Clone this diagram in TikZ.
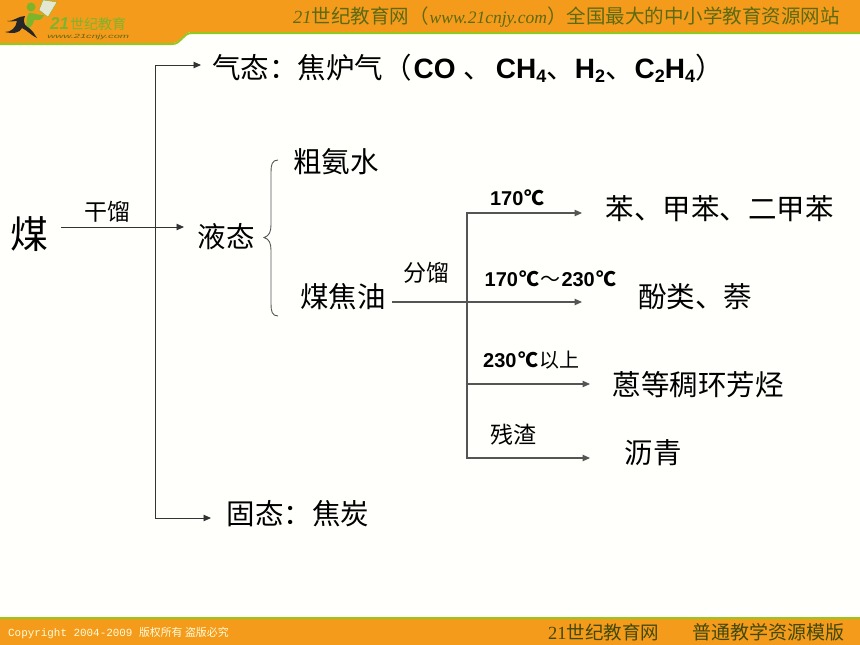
\documentclass[tikz,border=0pt]{standalone}
\usepackage{fontspec}
\setmainfont{Liberation Sans}
\newfontfamily\cjk{Noto Sans CJK SC}
\newfontfamily\latb{Liberation Sans Bold}
\newfontfamily\latbi{Liberation Sans Bold Italic}
\newfontfamily\lati{Liberation Sans Italic}
\newfontfamily\serifit{Liberation Serif Italic}
\newfontfamily\monof{Liberation Mono}
\newfontfamily\serifr{Liberation Serif}
\usetikzlibrary{arrows.meta}
\definecolor{bandorange}{HTML}{F49B1C}
\definecolor{bandgreen}{HTML}{94C81E}
\definecolor{olive}{HTML}{5C6A12}
\definecolor{linegray}{HTML}{555555}
\definecolor{logogreen}{HTML}{7DB52A}
\definecolor{papergray}{HTML}{E4E8D2}
\tikzset{
  x=1pt,y=-1pt,
  cn/.style={inner sep=0pt,anchor=center,font=\fontsize{28.5}{28.5}\selectfont\cjk,text=black},
  small/.style={inner sep=0pt,anchor=center,font=\fontsize{23}{23}\selectfont\cjk,text=black},
  temp/.style={inner sep=0pt,anchor=center,font=\fontsize{20}{20}\selectfont\latb,text=black},
  conn/.style={draw=linegray,line width=1.1pt,-{Triangle[length=7.5pt,width=6.5pt]}},
  darkconn/.style={conn,draw=black!80,line width=.9pt},
}
\newcommand{\dC}{\kern1.5pt{\cjk\bfseries ℃}\kern1pt}
\newcommand{\bl}[1]{{\latb\fontsize{28}{28}\selectfont #1}}
\newcommand{\sbs}[1]{\raisebox{-4pt}{\fontsize{18}{18}\selectfont #1}}
\begin{document}
\begin{tikzpicture}
\useasboundingbox (0,0) rectangle (860,645);
\fill[white!99!yellow] (0,0) rectangle (860,645);
% header band
\fill[bandorange] (0,0) -- (860,0) -- (860,32) -- (192,32) .. controls (182,32) and (182,43) .. (172,43) -- (0,43) -- cycle;
\draw[bandgreen,line width=2pt] (860,33) -- (192,33) .. controls (182,33) and (182,44) .. (172,44) -- (0,44);
% footer band
\fill[bandorange] (0,618) rectangle (860,645);
\fill[bandgreen] (0,616.5) rectangle (860,619);
% logo
\fill[papergray,draw=logogreen,line width=.4pt] (43,0) -- (57,2) -- (48,17) -- (39,10) -- cycle;
\fill[logogreen] (31,7) circle (4.5);
\fill[logogreen] (29,13) .. controls (36,13) and (40,16) .. (44,15) .. controls (42,21) and (38,20) .. (34,20) .. controls (33,26) and (30,28) .. (26,28) .. controls (27,22) and (26,17) .. (29,13) -- cycle;
\fill[black!85] (7,21) .. controls (13,22) and (18,16) .. (25,16) .. controls (22,24) and (26,26) .. (29,28) .. controls (33,31) and (35,35) .. (37,38) .. controls (32,36) and (28,31) .. (22,28) .. controls (20,33) and (13,34) .. (5,32) .. controls (11,32) and (16,28) .. (17,21) .. controls (14,21) and (10,22) .. (7,21) -- cycle;
\node[inner sep=0pt,anchor=west,text=logogreen,font=\fontsize{17}{17}\selectfont\latbi] (logoa) at (50,24) {21\kern1pt{\cjk\fontsize{14}{14}\selectfont 世纪教育}};
\node[inner sep=0pt,anchor=west,text=olive,font=\fontsize{6}{6}\selectfont\lati,xscale=1.85,transform shape] (logob) at (47,36.5) {www.21cnjy.com};
% header and footer text
\node[inner sep=0pt,anchor=west,text=olive,font=\fontsize{19.5}{19.5}\selectfont] (headtxt) at (293,17) {{\serifit\fontsize{18.5}{18.5}\selectfont 21}{\cjk 世纪教育网（}\kern1pt{\serifit\fontsize{17.5}{17.5}\selectfont www.21cnjy.com}{\cjk ）全国最大的中小学教育资源网站}};
\node[inner sep=0pt,anchor=west,text=white!85!yellow,font=\fontsize{10.9}{10.9}\selectfont] (foota) at (8,633) {{\monof Copyright 2004-2009 }{\cjk 版权所有 盗版必究}};
\node[inner sep=0pt,anchor=west,text=olive!70!black,font=\fontsize{18.5}{18.5}\selectfont] (footb) at (548,632) {{\serifr 21}{\cjk 世纪教育网}};
\node[inner sep=0pt,anchor=west,text=olive!70!black,font=\fontsize{19}{19}\selectfont\cjk] (footc) at (692,632) {普通教学资源模版};
% main text
\node[cn,font=\fontsize{38}{38}\selectfont\cjk] (mei) at (29,234) {煤};
\node[small] (gl) at (107,212) {干馏};
\node[cn,anchor=west] (qi) at (212,68) {气态：焦炉气（\kern2pt\bl{CO }、\kern4pt\bl{CH\sbs{4}}、\bl{H\sbs{2}}、\kern1pt\bl{C\sbs{2}H\sbs{4}}）};
\node[cn] (ye) at (226,237) {液态};
\node[cn] (gu) at (298,514) {固态：焦炭};
\node[cn] (cu) at (336,162) {粗氨水};
\node[cn] (jiao) at (343,297) {煤焦油};
\node[small] (fl) at (426,273) {分馏};
\node[temp] (t1) at (518,198) {170\dC};
\node[temp] (t2) at (551,279) {170\dC{\cjk\mdseries ～}\kern1pt 230\dC};
\node[temp,anchor=west] (t3) at (483,360) {230\dC{\cjk 以上}};
\node[small] (t4) at (513,435) {残渣};
\node[cn] (ben) at (719.5,209) {苯、甲苯、二甲苯};
\node[cn] (fen) at (695,297) {酚类、萘};
\node[cn] (en) at (698,385) {蒽等稠环芳烃};
\node[cn] (li) at (653,453) {沥青};
% junctions
\coordinate (ja) at (155,227);
\coordinate (jb) at (467,302);
\coordinate (m1) at (61,227);
\coordinate (e1) at (184,227);
\coordinate (e0) at (201,65);
\coordinate (e2) at (211,518);
\coordinate (s3) at (392,302);
\coordinate (b1) at (582,213);
\coordinate (b2) at (582,302);
\coordinate (b3) at (590,384);
\coordinate (b4) at (590,458);
% connectors
\draw[darkconn] (m1) -- (e1);
\draw[darkconn] (ja) |- (e0);
\draw[darkconn] (ja) |- (e2);
\draw[conn] (s3) -- (b2);
\draw[conn] (jb) |- (b1);
\draw[conn] (jb) |- (b3);
\draw[conn] (jb) |- (b4);
% brace
\draw[linegray,line width=.9pt] (278,160) .. controls (272,160) and (271,165) .. (271,172) -- (271,225) .. controls (271,232) and (269,236) .. (264,237.5) .. controls (269,239) and (271,243) .. (271,250) -- (271,304) .. controls (271,311) and (272,316) .. (278,316);
\end{tikzpicture}
\end{document}
